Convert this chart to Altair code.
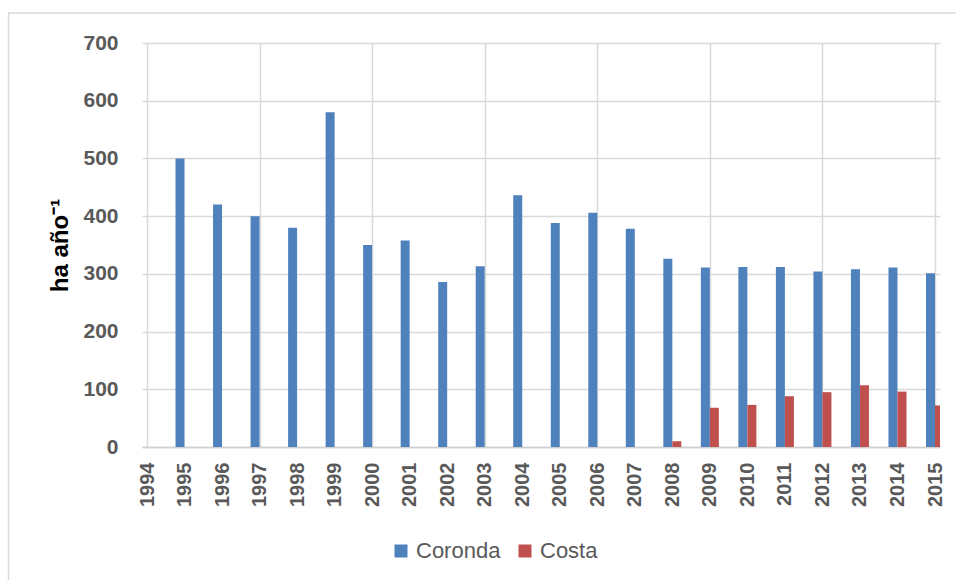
import altair as alt
import pandas as pd

# Annual values (ha año^-1) for the two zones
years = list(range(1995, 2016))
coronda = [500, 420, 400, 380, 580, 350, 358, 286, 313, 436, 388,
           406, 378, 326, 311, 312, 312, 304, 308, 311, 301]
costa_years = list(range(2008, 2016))
costa = [10, 68, 73, 88, 95, 107, 96, 72]

series_names = ["Coronda", "Costa"]
series_colors = ["#4f81bd", "#c0504d"]

rows = [{"year": y, "serie": "Coronda", "valor": v} for y, v in zip(years, coronda)]
rows += [{"year": y, "serie": "Costa", "valor": v} for y, v in zip(costa_years, costa)]
df = pd.DataFrame(rows)

FONT = "Liberation Sans"
GRID = "#d9d9d9"
TEXT = "#595959"

x_enc = alt.X(
    "year:Q",
    scale=alt.Scale(domain=[1994, 2015], nice=False, zero=False),
    axis=alt.Axis(
        values=list(range(1994, 2016)),
        format="d",
        title=None,
        labelAngle=270,
        labelFont=FONT,
        labelFontSize=20,
        labelFontWeight="bold",
        labelColor=TEXT,
        labelPadding=15,
        ticks=False,
        domain=True,
        domainColor="#cfcfcf",
        domainWidth=1.5,
        grid=True,
        gridColor=GRID,
        gridWidth=1.5,
        gridOpacity=alt.condition("(datum.value - 1994) % 3 === 0", alt.value(1), alt.value(0)),
        labelOverlap=False,
    ),
)

y_enc = alt.Y(
    "valor:Q",
    scale=alt.Scale(domain=[0, 700], nice=False),
    axis=alt.Axis(
        values=list(range(0, 701, 100)),
        title="ha año⁻¹",
        titleFont=FONT,
        titleFontSize=24,
        titleFontWeight="bold",
        titleColor="black",
        titlePadding=10,
        labelFont=FONT,
        labelFontSize=21,
        labelFontWeight="bold",
        labelColor=TEXT,
        labelPadding=24,
        ticks=False,
        domain=False,
        grid=True,
        gridColor=GRID,
        gridWidth=1.5,
    ),
)

color_enc = alt.Color(
    "serie:N",
    scale=alt.Scale(domain=series_names, range=series_colors),
    legend=alt.Legend(
        title=None,
        orient="none",
        direction="horizontal",
        legendX=248,
        legendY=497,
        symbolType="square",
        symbolSize=169,
        symbolStrokeWidth=0,
        symbolOpacity=1,
        labelFont=FONT,
        labelFontSize=22,
        labelFontWeight="normal",
        labelColor=TEXT,
        labelOffset=4,
        columnPadding=13,
        padding=0,
    ),
)

base = alt.Chart(df)

bars_coronda = base.transform_filter(alt.datum.serie == "Coronda").mark_bar(
    size=9, xOffset=-4.5, clip=True
).encode(x=x_enc, y=y_enc, color=color_enc)

bars_costa = base.transform_filter(alt.datum.serie == "Costa").mark_bar(
    size=9, xOffset=4.5, clip=True
).encode(x=x_enc, y=y_enc, color=color_enc)

# light frame around the chart area (left and top edges)
one = alt.Data(values=[{}])
frame_left = alt.Chart(one).mark_rule(color=GRID, strokeWidth=1.5).encode(
    x=alt.value(-133.5), y=alt.value(-30), y2=alt.value(540)
)
frame_top = alt.Chart(one).mark_rule(color=GRID, strokeWidth=1.5).encode(
    x=alt.value(-134), x2=alt.value(820), y=alt.value(-30)
)

chart = alt.layer(bars_coronda, bars_costa, frame_left, frame_top).properties(
    width=798,
    height=404,
    autosize=alt.AutoSizeParams(type="none"),
    padding={"left": 142, "top": 43, "right": 16, "bottom": 133},
    background="white",
).configure_view(stroke=None)

chart.save("out.html", embed_options={"renderer": "svg", "actions": False})
